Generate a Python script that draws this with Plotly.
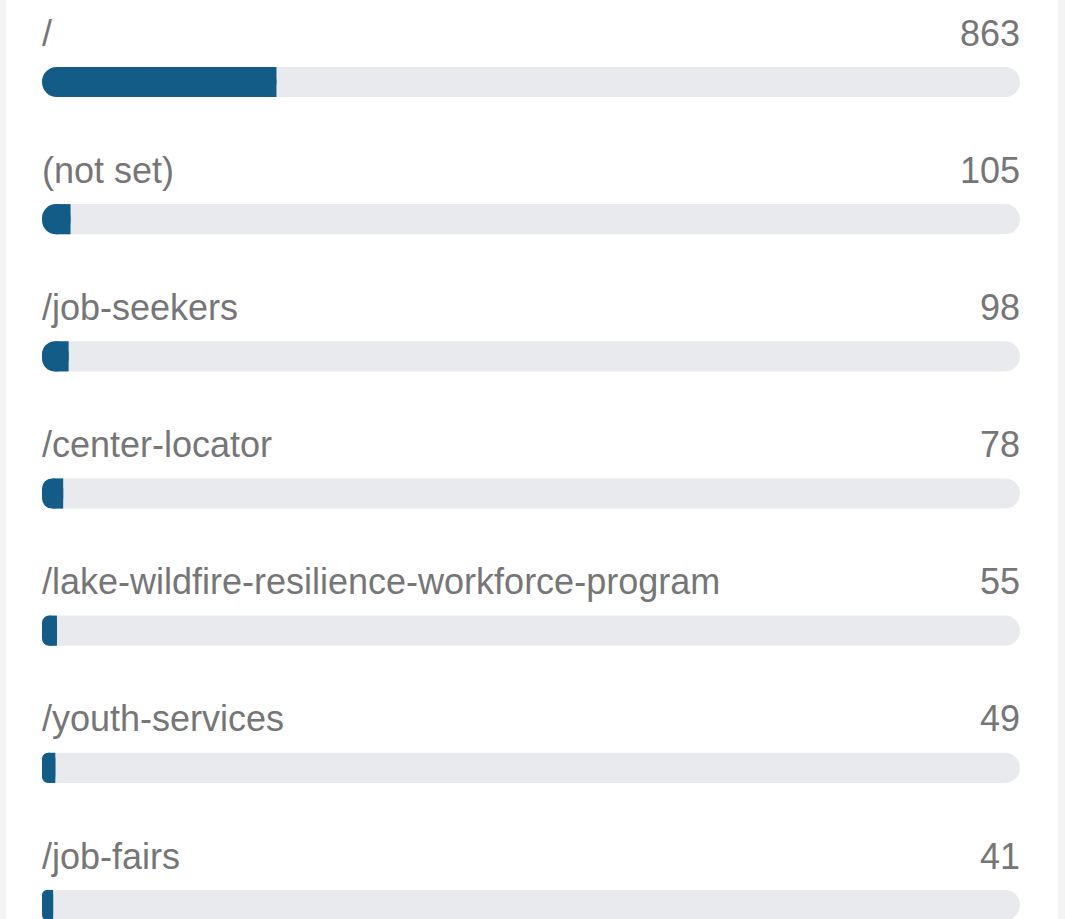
import plotly.graph_objects as go

pages = [
    "/",
    "(not set)",
    "/job-seekers",
    "/center-locator",
    "/lake-wildfire-resilience-workforce-program",
    "/youth-services",
    "/job-fairs",
]
views = [863, 105, 98, 78, 55, 49, 41]
total_views = 3600  # scale of the full track

BAR_COLOR = "#135c88"
TRACK_COLOR = "#e8eaed"
TEXT_COLOR = "#767676"
FONT = "Liberation Sans, Arial, sans-serif"
FONT_SIZE = 36
RADIUS = 15
BAR_W = 0.22

n = len(pages)

fig = go.Figure()
# full track, rounded at both ends
fig.add_trace(go.Bar(
    y=pages, x=[total_views] * n, base=[0] * n, orientation="h",
    marker=dict(color=TRACK_COLOR, cornerradius=RADIUS, line=dict(width=0)),
    width=BAR_W, hoverinfo="skip", showlegend=False,
))
# value bar: rounded pill ...
fig.add_trace(go.Bar(
    y=pages, x=views, base=[0] * n, orientation="h",
    marker=dict(color=BAR_COLOR, cornerradius=RADIUS, line=dict(width=0)),
    width=BAR_W, customdata=views,
    hovertemplate="%{y}: %{customdata}<extra></extra>", showlegend=False,
))
# ... with a square right half so only the left end is rounded
fig.add_trace(go.Bar(
    y=pages, x=[v / 2 for v in views], base=[v / 2 for v in views], orientation="h",
    marker=dict(color=BAR_COLOR, cornerradius=0, line=dict(width=0)),
    width=BAR_W, hoverinfo="skip", showlegend=False,
))

annotations = []
for p, v in zip(pages, views):
    annotations.append(dict(
        x=0, y=p, xref="x", yref="y", text=p, showarrow=False,
        xanchor="left", yanchor="middle", yshift=49, xshift=-2,
        font=dict(family=FONT, size=FONT_SIZE, color=TEXT_COLOR),
    ))
    annotations.append(dict(
        x=total_views, y=p, xref="x", yref="y", text=str(v), showarrow=False,
        xanchor="right", yanchor="middle", yshift=49, xshift=2,
        font=dict(family=FONT, size=FONT_SIZE, color=TEXT_COLOR),
    ))

W, H = 1065, 919
L, R = 42, 45
pw = W - L - R
shapes = [
    dict(type="rect", xref="paper", yref="paper",
         x0=-L / pw, x1=-(L - 6) / pw, y0=0, y1=1,
         fillcolor="#f3f3f3", line=dict(width=0), layer="below"),
    dict(type="rect", xref="paper", yref="paper",
         x0=(W - L - 7) / pw, x1=(W - L) / pw, y0=0, y1=1,
         fillcolor="#f3f3f3", line=dict(width=0), layer="below"),
]

fig.update_layout(
    width=W, height=H,
    margin=dict(l=L, r=R, t=0, b=0),
    barmode="overlay",
    paper_bgcolor="white", plot_bgcolor="white",
    xaxis=dict(range=[0, total_views], visible=False, fixedrange=True),
    yaxis=dict(type="category", range=[6.102, -0.598], visible=False, fixedrange=True),
    annotations=annotations,
    shapes=shapes,
    font=dict(family=FONT),
)

fig.write_html(
    "out.html",
    config={"displayModeBar": False},
    post_script="document.body.style.margin='0px';document.body.style.overflow='hidden';",
)
